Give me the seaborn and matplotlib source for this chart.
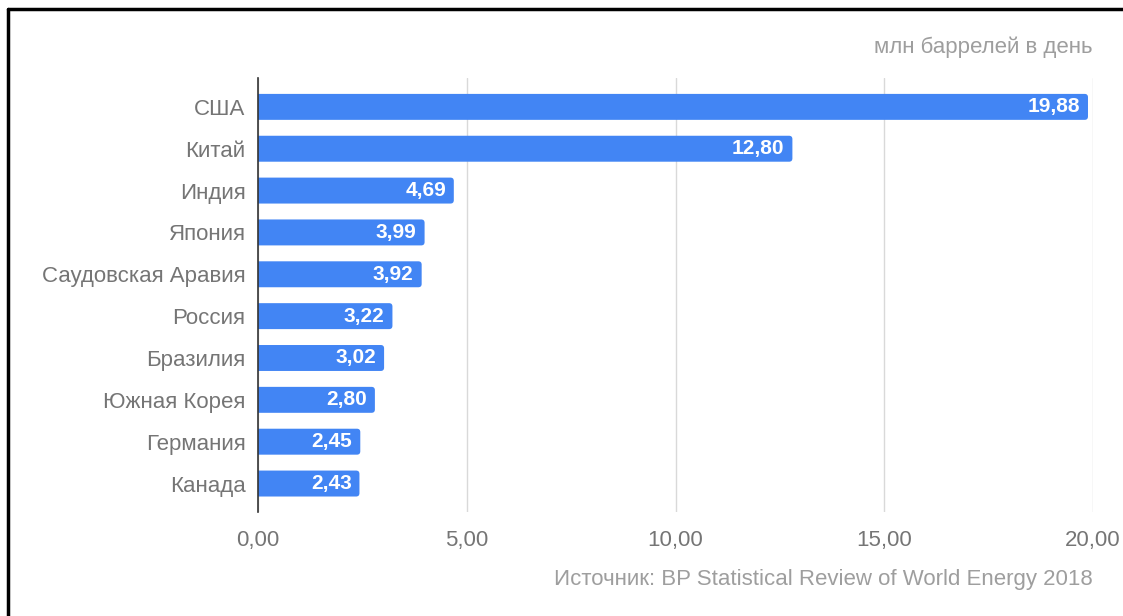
import matplotlib
matplotlib.use("Agg")
import matplotlib.pyplot as plt
import seaborn as sns
import pandas as pd
from matplotlib.patches import FancyBboxPatch
from matplotlib.lines import Line2D

countries = ["США", "Китай", "Индия", "Япония", "Саудовская Аравия", "Россия",
             "Бразилия", "Южная Корея", "Германия", "Канада"]
values = [19.88, 12.80, 4.69, 3.99, 3.92, 3.22, 3.02, 2.80, 2.45, 2.43]
x_ticks = [0, 5, 10, 15, 20]
unit_label = "млн баррелей в день"
source_label = "Источник: BP Statistical Review of World Energy 2018"

sns.set_style("white")
plt.rcParams['font.family'] = ['Liberation Sans', 'DejaVu Sans']

BLUE = "#4285F4"
GREY = "#757575"

df = pd.DataFrame({"country": countries, "value": values})

fig = plt.figure(figsize=(11.23, 6.16), dpi=100)
ax = fig.add_axes([258/1123, 1-512/616, (1093-258)/1123, (512-78)/616])

sns.barplot(data=df, y="country", x="value", orient="h", color=BLUE,
            width=0.62, ax=ax, saturation=1)

# replace rectangles with rounded ones
patches = list(ax.patches)
for p in patches:
    x0, y0 = p.get_x(), p.get_y()
    w, h = p.get_width(), p.get_height()
    p.remove()
    fb = FancyBboxPatch((x0 - 0.3, y0), w + 0.3, h,
                        boxstyle="round,pad=0,rounding_size=0.08",
                        facecolor=BLUE, edgecolor="none", clip_on=True)
    ax.add_patch(fb)
    fb.set_clip_path(ax.patch)

for i, v in enumerate(values):
    ax.text(v - 0.19, i, f"{v:.2f}".replace(".", ","), ha="right", va="center",
            color="white", fontsize=15, fontweight="bold")

ax.set_xlim(0, 20)
ax.set_ylim(9.68, -0.69)
ax.set_xticks(x_ticks)
ax.set_xticklabels([f"{t:.2f}".replace(".", ",") for t in x_ticks])
ax.xaxis.grid(True, color="#d9d9d9", linewidth=1)
ax.set_axisbelow(True)
for s in ["top", "right", "bottom"]:
    ax.spines[s].set_visible(False)
ax.spines["left"].set_color("#333333")
ax.spines["left"].set_linewidth(1.2)
ax.spines["left"].set_zorder(5)
ax.tick_params(axis="both", length=0, labelsize=16, labelcolor=GREY)
ax.tick_params(axis="x", pad=13)
ax.tick_params(axis="y", pad=9)
ax.set_xlabel("")
ax.set_ylabel("")

fig.text(1093/1123, 1-47/616, unit_label, ha="right", va="center",
         fontsize=16, color="#9e9e9e")
fig.text(1093/1123, 1-580/616, source_label, ha="right", va="center",
         fontsize=16, color="#9e9e9e")

# frame lines (left and top)
fig.add_artist(Line2D([8/1123, 8/1123], [0, 1-9/616], transform=fig.transFigure,
                      color="black", linewidth=2.5))
fig.add_artist(Line2D([8/1123, 1], [1-9/616, 1-9/616], transform=fig.transFigure,
                      color="black", linewidth=2.5))

fig.savefig("out.png", dpi=100)
